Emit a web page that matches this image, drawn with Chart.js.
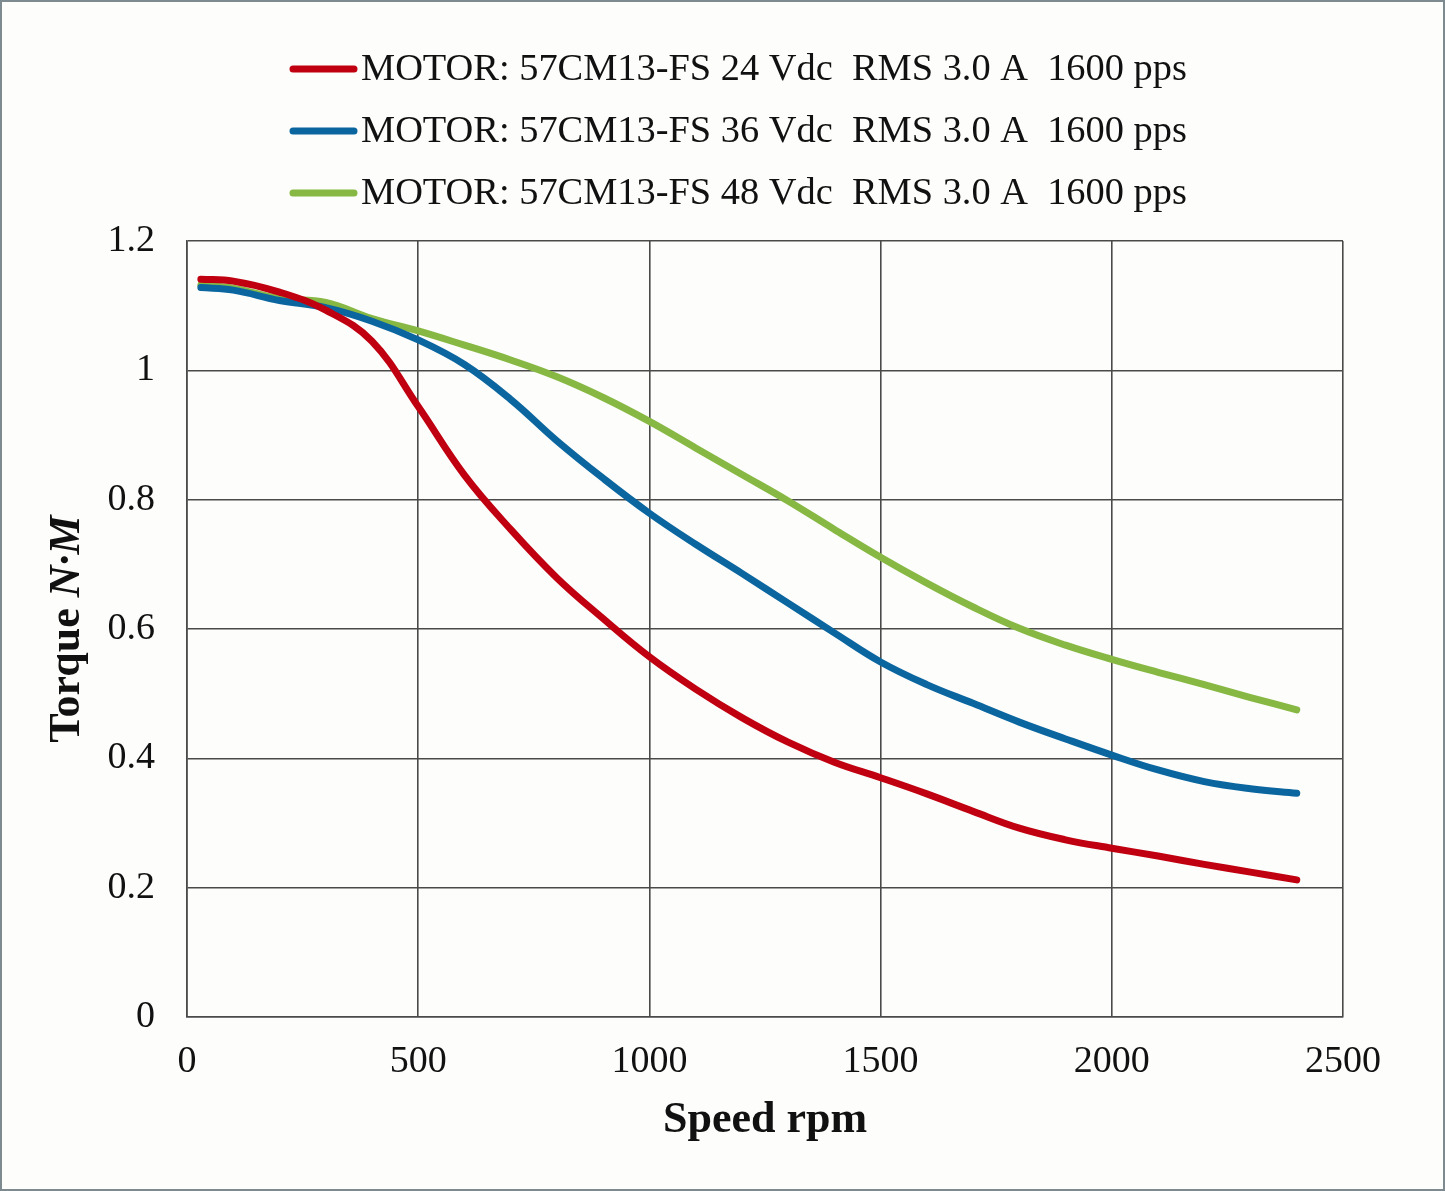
<!DOCTYPE html>
<html>
<head>
<meta charset="utf-8">
<script src="https://cdn.jsdelivr.net/npm/chart.js@4.4.1/dist/chart.umd.min.js"></script>
<style>
  html, body { margin: 0; padding: 0; background: #fdfdfb; }
  #wrap { width: 1445px; height: 1191px; }
</style>
</head>
<body>
<div id="wrap"><canvas id="c"></canvas></div>
<script>
const FONT = '"Liberation Serif", "Times New Roman", serif';

// speed (rpm) at which the curves were read
const speed = [30, 100, 200, 300, 400, 500, 600, 700, 800, 900, 1000, 1100, 1200,
  1300, 1400, 1500, 1600, 1700, 1800, 1900, 2000, 2100, 2200, 2300, 2400];

// torque N·M
const torque24 = [1.141, 1.138, 1.121, 1.093, 1.045, 0.944, 0.838, 0.754, 0.679, 0.616, 0.557,
  0.507, 0.463, 0.425, 0.394, 0.370, 0.345, 0.318, 0.292, 0.274, 0.261, 0.249, 0.236, 0.224, 0.212];
const torque36 = [1.128, 1.124, 1.108, 1.097, 1.076, 1.047, 1.009, 0.955, 0.891, 0.833, 0.779,
  0.731, 0.686, 0.640, 0.594, 0.549, 0.514, 0.485, 0.456, 0.430, 0.405, 0.382, 0.364, 0.353, 0.346];
const torque48 = [1.132, 1.127, 1.111, 1.105, 1.080, 1.061, 1.039, 1.016, 0.990, 0.958, 0.921,
  0.880, 0.839, 0.798, 0.754, 0.711, 0.671, 0.634, 0.601, 0.575, 0.553, 0.533, 0.514, 0.494, 0.475];

const seriesLabels = [
  'MOTOR: 57CM13-FS 24 Vdc  RMS 3.0 A  1600 pps',
  'MOTOR: 57CM13-FS 36 Vdc  RMS 3.0 A  1600 pps',
  'MOTOR: 57CM13-FS 48 Vdc  RMS 3.0 A  1600 pps'
];
const seriesColors = ['#c00010', '#0b66a0', '#86b843'];
const seriesData = [torque24, torque36, torque48];

const toPoints = (ys) => speed.map((x, i) => ({ x: x, y: ys[i] }));

// frame + background
const backdrop = {
  id: 'backdrop',
  beforeDraw(chart) {
    const ctx = chart.ctx;
    ctx.save();
    ctx.fillStyle = '#fdfdfb';
    ctx.fillRect(0, 0, chart.width, chart.height);
    ctx.strokeStyle = '#7d8b90';
    ctx.lineWidth = 2;
    ctx.strokeRect(1, 1, chart.width - 2, chart.height - 2);
    ctx.restore();
  }
};

// stacked legend at the top, line swatch right against the text
const topLegend = {
  id: 'topLegend',
  afterDraw(chart) {
    const ctx = chart.ctx;
    ctx.save();
    ctx.font = '38.4px ' + FONT;
    ctx.textBaseline = 'middle';
    ctx.fillStyle = '#111';
    ctx.lineCap = 'round';
    ctx.lineWidth = 7;
    chart.data.datasets.forEach((ds, i) => {
      const y = 70 + i * 62;
      ctx.strokeStyle = ds.borderColor;
      ctx.beginPath();
      ctx.moveTo(293, y - 1);
      ctx.lineTo(354, y - 1);
      ctx.stroke();
      ctx.fillText(ds.label, 361, y);
    });
    ctx.restore();
  }
};

// y title with italic N·M
const yTitle = {
  id: 'yTitle',
  afterDraw(chart) {
    const ctx = chart.ctx;
    const a = chart.chartArea;
    const p1 = 'Torque ', p2 = 'N·M';
    const f1 = 'bold 44px ' + FONT, f2 = 'italic bold 44px ' + FONT;
    ctx.save();
    ctx.font = f1; const w1 = ctx.measureText(p1).width;
    ctx.font = f2; const w2 = ctx.measureText(p2).width;
    ctx.translate(68, (a.top + a.bottom) / 2);
    ctx.rotate(-Math.PI / 2);
    ctx.textBaseline = 'middle';
    ctx.fillStyle = '#111';
    const start = -(w1 + w2) / 2;
    ctx.font = f1; ctx.fillText(p1, start, 0);
    ctx.font = f2; ctx.fillText(p2, start + w1, 0);
    ctx.restore();
  }
};

new Chart(document.getElementById('c'), {
  type: 'line',
  data: {
    datasets: seriesData.map((ys, i) => ({
      label: seriesLabels[i],
      data: toPoints(ys),
      borderColor: seriesColors[i],
      backgroundColor: seriesColors[i],
      borderWidth: 7,
      borderCapStyle: 'round',
      borderJoinStyle: 'round',
      pointRadius: 0,
      tension: 0.4,
      fill: false
    }))
  },
  options: {
    responsive: true,
    maintainAspectRatio: false,
    animation: false,
    layout: { padding: { top: 241, right: 102, bottom: 0, left: 0 } },
    plugins: {
      legend: { display: false },
      tooltip: { enabled: false }
    },
    scales: {
      x: {
        type: 'linear',
        min: 0,
        max: 2500,
        ticks: {
          stepSize: 500, color: '#111', padding: 22,
          font: { family: FONT, size: 38 },
          callback: (v) => String(Math.round(v))
        },
        grid: { color: '#4a4a4a', lineWidth: 1.6, drawTicks: false },
        border: { color: '#4a4a4a', width: 1.6 },
        title: {
          display: true,
          text: 'Speed rpm',
          color: '#111',
          font: { family: FONT, size: 44, weight: 'bold', lineHeight: 1.2 },
          padding: { top: 0, bottom: 44 }
        },
        afterFit(scale) { scale.height = 174; }
      },
      y: {
        min: 0,
        max: 1.2,
        ticks: {
          stepSize: 0.2, color: '#111', padding: 32,
          font: { family: FONT, size: 38 },
          callback: (v) => String(Math.round(v * 10) / 10)
        },
        grid: { color: '#4a4a4a', lineWidth: 1.6, drawTicks: false },
        border: { color: '#4a4a4a', width: 1.6 },
        afterFit(scale) { scale.width = 187; }
      }
    }
  },
  plugins: [backdrop, topLegend, yTitle]
});
</script>
</body>
</html>
